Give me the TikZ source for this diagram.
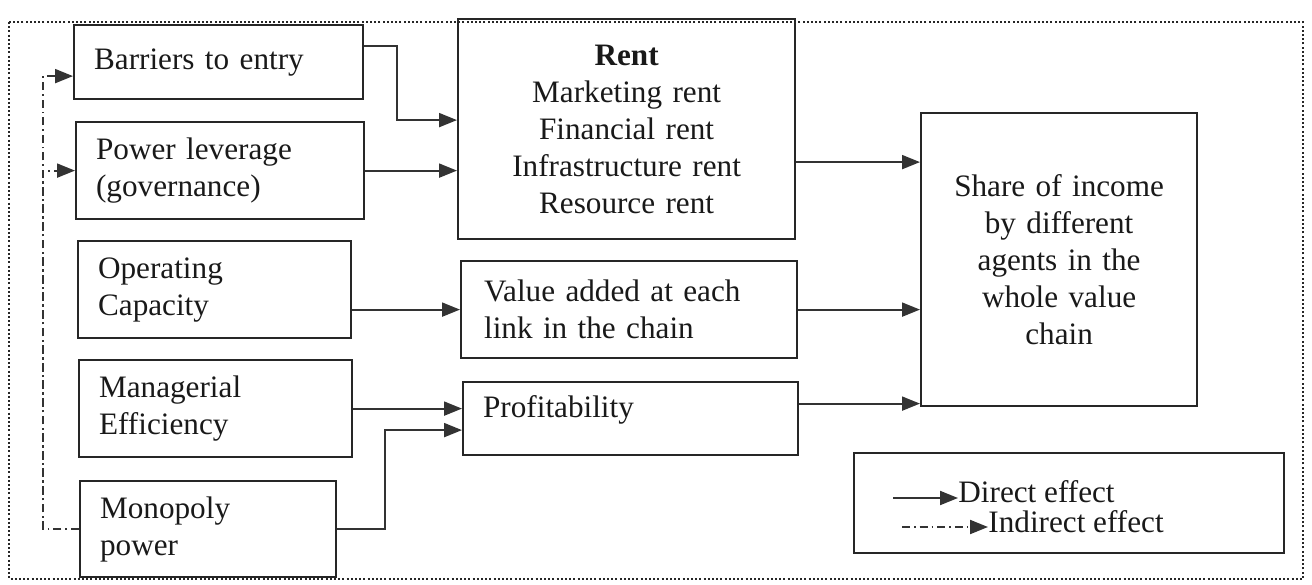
\documentclass[tikz,border=0pt]{standalone}
\usepackage{fontspec}
\setmainfont{Liberation Serif}
\usetikzlibrary{arrows.meta}
\begin{document}
\begin{tikzpicture}[x=0.5pt,y=-0.5pt,
  every node/.style={font=\fontsize{15.6}{18.5}\selectfont, text=black!90},
  box/.style={draw=black!85, line width=1.1pt, anchor=north west, inner xsep=10pt, inner ysep=0pt},
  lbox/.style={box, align=left},
  cbox/.style={box, align=center},
  tip/.style={-{Triangle[length=9pt,width=7pt]}},
  direct/.style={tip, draw=black!80, line width=1pt},
  indirect/.style={tip, draw=black!80, line width=1pt, dash pattern=on 4pt off 2pt on 0.8pt off 2pt},
  frame/.style={draw=black!85, line width=1.3pt, dash pattern=on 1pt off 1.1pt}]
\useasboundingbox (0,0) rectangle (1312,584);

% outer frame
\draw[frame] (9,22) rectangle (1303,579);

% determinants (left column)
\node[lbox, minimum width=144.5pt, minimum height=37pt, text width=124.5pt] (barr) at (73,24) {Barriers to entry};
\node[lbox, minimum width=144pt, minimum height=48.5pt, text width=124pt] (power) at (75,121) {Power leverage\\(governance)};
\node[lbox, minimum width=136.5pt, minimum height=48.5pt, text width=116.5pt] (oper) at (77,240) {Operating\\Capacity};
\node[lbox, minimum width=136.5pt, minimum height=48.5pt, text width=116.5pt] (manag) at (78,359) {Managerial\\Efficiency};
\node[lbox, minimum width=128pt, minimum height=48pt, text width=108pt] (mono) at (79,480) {Monopoly\\power};

% intermediate outcomes
\node[cbox, minimum width=168.5pt, minimum height=110pt, text width=148.5pt] (rent) at (457,18)
  {\textbf{Rent}\\Marketing rent\\Financial rent\\Infrastructure rent\\Resource rent};
\node[lbox, minimum width=168pt, minimum height=48.5pt, inner xsep=11.5pt, text width=145pt] (value) at (460,260)
  {Value added at each\\link in the chain};
\node[lbox, minimum width=167.5pt, minimum height=36.5pt, text width=147.5pt, text height=11pt, text depth=12pt] (prof) at (462,381)
  {Profitability};

% final outcome
\node[cbox, minimum width=138pt, minimum height=146.5pt, text width=118pt] (share) at (920,112)
  {Share of income\\by different\\agents in the\\whole value\\chain};

% direct effects
\draw[direct] ([yshift=8pt]barr.east) -- ++(33,0) |- ([yshift=4.5pt]rent.west);
\draw[direct] (power.east) -- (power.east -| rent.west);
\draw[direct] (oper.east |- value.west) -- (value.west);
\draw[direct] (manag.east) -- (manag.east -| prof.west);
\draw[direct] (mono.east) -- ++(48,0) |- ([yshift=-5.75pt]prof.west);
\draw[direct] ([yshift=-16.5pt]rent.east) -- ([yshift=-16.5pt]rent.east -| share.west);
\draw[direct] (value.east) -- (value.east -| share.west);
\draw[direct] ([yshift=7.5pt]prof.east) -- ([yshift=7.5pt]prof.east -| share.west);

% indirect effects of monopoly power
\draw[indirect] (mono.west) -- ++(-36,0) coordinate (ibend) |- ([yshift=-7pt]barr.west);
\draw[indirect] (ibend) |- (power.west);

% legend
\node[box, minimum width=215pt, minimum height=50pt] (legend) at (853,452) {};
\node[anchor=base west, inner sep=0pt] (dtxt) at (958,502) {Direct effect};
\node[anchor=base west, inner sep=0pt] (itxt) at (988,532) {Indirect effect};
\coordinate (ds) at (893,498);
\coordinate (is) at (902,527);
\draw[direct] (ds) -- ([yshift=2pt]dtxt.base west);
\draw[indirect] (is) -- ([yshift=2.5pt]itxt.base west);
\end{tikzpicture}
\end{document}
